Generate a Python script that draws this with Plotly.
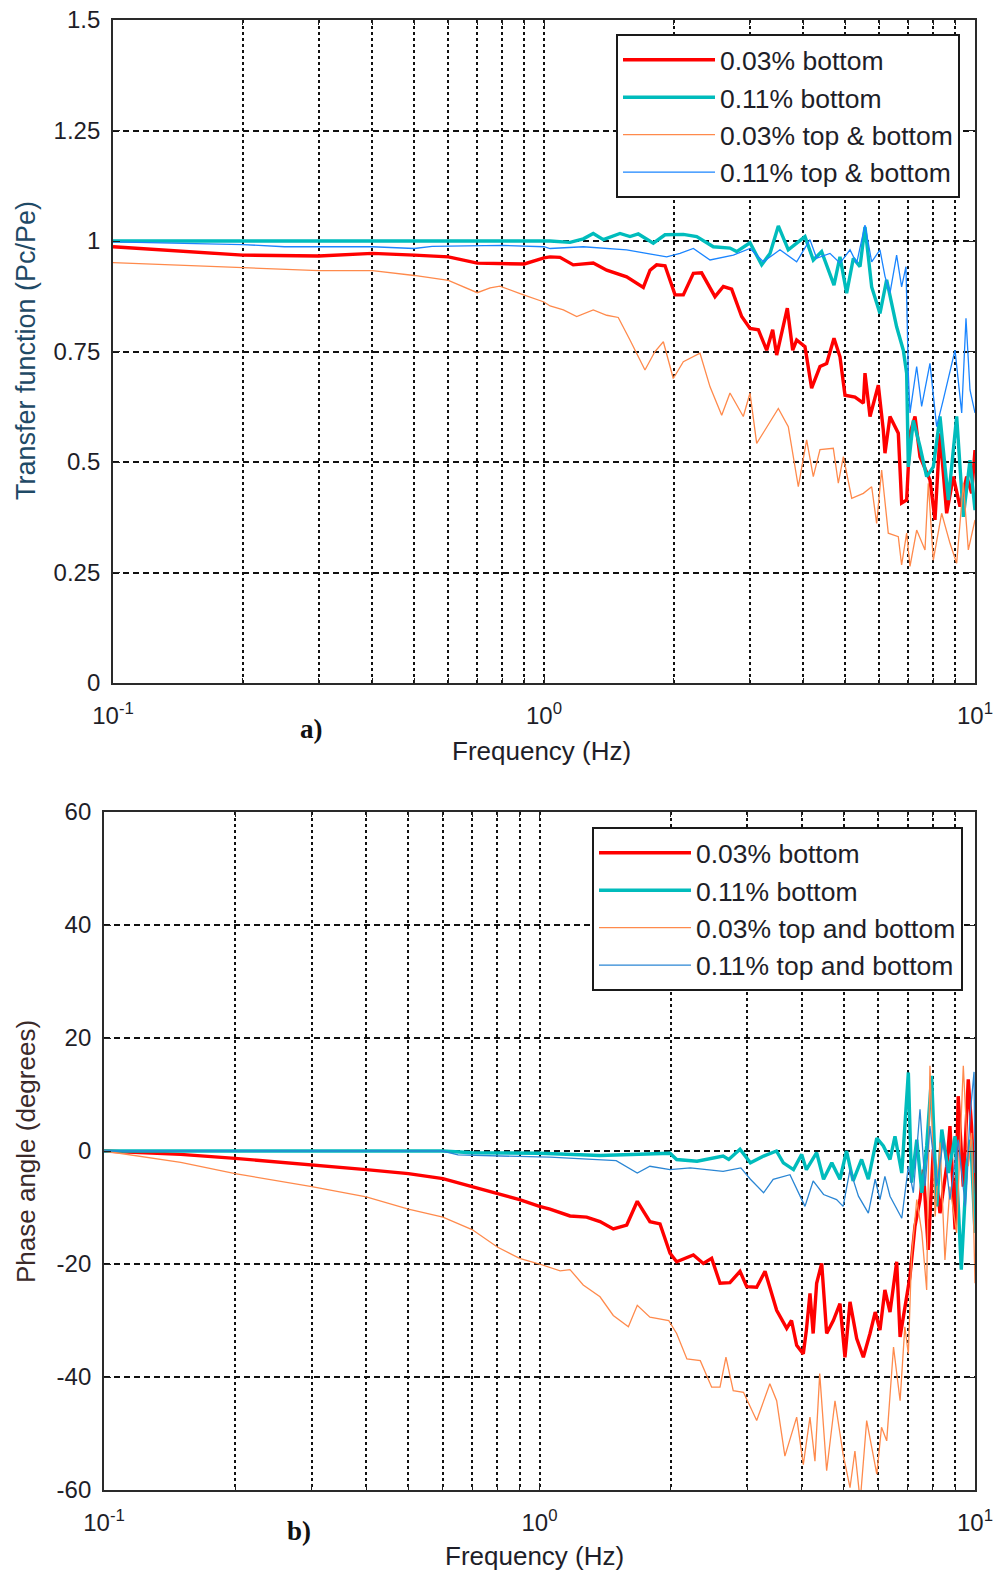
import plotly.graph_objects as go

# ---------------- data: a) transfer function ----------------
tf_red_f = [0.1, 0.12, 0.15, 0.2, 0.3, 0.4, 0.5, 0.6, 0.7, 0.8, 0.9, 1.0, 1.033, 1.089, 1.169, 1.301, 1.398,
            1.555, 1.700, 1.762, 1.825, 1.909, 2.014, 2.105, 2.221, 2.321, 2.493, 2.607, 2.725, 2.875, 3.006,
            3.143, 3.286, 3.393, 3.466, 3.669, 3.776, 3.857, 4.032, 4.178, 4.369, 4.527, 4.708, 4.861, 4.993,
            5.267, 5.508, 5.556, 5.707, 5.966, 6.127, 6.182, 6.349, 6.638, 6.757, 6.941, 7.066, 7.258, 7.454,
            7.862, 8.075, 8.294, 8.595, 8.907, 9.23, 9.565, 9.824, 10.0]
tf_red_v = [0.987, 0.982, 0.975, 0.968, 0.966, 0.972, 0.968, 0.964, 0.950, 0.948, 0.948, 0.962, 0.964, 0.963,
            0.946, 0.950, 0.934, 0.919, 0.895, 0.934, 0.946, 0.944, 0.878, 0.878, 0.927, 0.928, 0.874, 0.897,
            0.891, 0.829, 0.802, 0.799, 0.753, 0.799, 0.742, 0.848, 0.753, 0.776, 0.761, 0.667, 0.716, 0.723,
            0.780, 0.738, 0.651, 0.647, 0.633, 0.701, 0.603, 0.674, 0.572, 0.520, 0.603, 0.565, 0.407, 0.414,
            0.565, 0.603, 0.512, 0.459, 0.369, 0.565, 0.384, 0.467, 0.399, 0.467, 0.429, 0.527]

tf_teal_f = [0.1, 0.3, 0.6, 1.0, 1.033, 1.149, 1.234, 1.301, 1.373, 1.501, 1.583, 1.655, 1.793, 1.909, 2.105,
             2.261, 2.471, 2.701, 2.799, 3.006, 3.199, 3.345, 3.497, 3.688, 4.032, 4.215, 4.407, 4.708, 4.861,
             5.037, 5.221, 5.410, 5.556, 5.758, 6.019, 6.237, 6.579, 6.818, 6.941, 7.003, 7.193, 7.454, 7.724,
             8.003, 8.294, 8.672, 9.067, 9.396, 9.736, 10.0]
tf_teal_v = [1.0, 1.0, 1.0, 1.0, 1.0, 0.997, 1.005, 1.017, 1.003, 1.017, 1.010, 1.016, 0.995, 1.014, 1.015,
             1.010, 0.987, 0.984, 0.976, 0.996, 0.946, 0.972, 1.034, 0.980, 1.010, 0.957, 0.976, 0.900, 0.964,
             0.882, 0.961, 0.942, 1.032, 0.896, 0.836, 0.912, 0.806, 0.753, 0.701, 0.489, 0.594, 0.535, 0.467,
             0.489, 0.603, 0.414, 0.603, 0.376, 0.504, 0.391]

tf_orange_f = [0.1, 0.2, 0.3, 0.4, 0.5, 0.6, 0.7, 0.75, 0.79, 0.88, 1.0, 1.033, 1.109, 1.191, 1.301, 1.398,
               1.487, 1.583, 1.715, 1.809, 1.892, 1.995, 2.105, 2.301, 2.428, 2.584, 2.701, 2.900, 3.006, 3.115,
               3.286, 3.497, 3.688, 3.891, 4.068, 4.215, 4.369, 4.691, 4.818, 4.949, 5.175, 5.508, 5.758, 5.913,
               6.073, 6.292, 6.638, 6.757, 6.941, 7.066, 7.323, 7.656, 7.793, 8.003, 8.368, 8.75, 9.067, 9.396,
               9.65, 10.0]
tf_orange_v = [0.951, 0.940, 0.933, 0.933, 0.922, 0.911, 0.883, 0.894, 0.898, 0.881, 0.862, 0.853, 0.844,
               0.829, 0.844, 0.832, 0.827, 0.776, 0.708, 0.750, 0.772, 0.689, 0.727, 0.746, 0.670, 0.606, 0.656,
               0.603, 0.656, 0.542, 0.580, 0.621, 0.580, 0.444, 0.550, 0.467, 0.528, 0.531, 0.452, 0.512, 0.418,
               0.429, 0.444, 0.361, 0.482, 0.339, 0.331, 0.267, 0.339, 0.264, 0.346, 0.301, 0.452, 0.278, 0.384,
               0.316, 0.271, 0.452, 0.301, 0.369]

tf_blue_f = [0.1, 0.15, 0.2, 0.25, 0.4, 0.5, 0.55, 0.8, 1.0, 1.033, 1.234, 1.555, 1.926, 2.068, 2.221, 2.428,
             2.750, 3.006, 3.228, 3.528, 3.857, 4.141, 4.291, 4.608, 4.861, 5.129, 5.314, 5.556, 5.758, 6.019,
             6.182, 6.349, 6.579, 6.757, 6.916, 7.003, 7.066, 7.323, 7.520, 7.862, 8.147, 8.443, 8.987, 9.314,
             9.53, 9.736, 10.0]
tf_blue_v = [0.998, 0.994, 0.992, 0.987, 0.987, 0.983, 0.988, 0.990, 0.987, 0.983, 0.987, 0.980, 0.964, 0.972,
             0.983, 0.957, 0.968, 0.983, 0.953, 0.980, 0.953, 1.003, 0.961, 0.972, 0.950, 0.980, 0.950, 1.036,
             0.953, 0.980, 0.920, 0.882, 0.968, 0.896, 0.942, 0.701, 0.611, 0.716, 0.626, 0.723, 0.580, 0.641,
             0.753, 0.611, 0.825, 0.663, 0.611]

# ---------------- data: b) phase angle ----------------
ph_red_f = [0.1, 0.15, 0.2, 0.3, 0.4, 0.5, 0.6, 0.7, 0.8, 0.9, 1.0, 1.057, 1.175, 1.283, 1.377, 1.477, 1.586,
            1.677, 1.793, 1.891, 1.994, 2.065, 2.256, 2.378, 2.485, 2.597, 2.737, 2.887, 2.991, 3.153, 3.295,
            3.504, 3.695, 3.79, 3.895, 4.034, 4.1, 4.179, 4.25, 4.329, 4.446, 4.564, 4.728, 4.897, 5.028, 5.164,
            5.35, 5.541, 5.74, 5.9, 6.05, 6.21, 6.381, 6.61, 6.73, 6.97, 7.09, 7.28, 7.477, 7.61, 7.81, 8.023,
            8.31, 8.61, 8.76, 9.0, 9.15, 9.4, 9.65, 9.82, 10.0]
ph_red_v = [0, -0.6, -1.3, -2.4, -3.3, -4.0, -4.9, -6.3, -7.6, -8.6, -9.8, -10.3, -11.5, -11.7, -12.5, -13.8,
            -13.1, -8.9, -12.5, -12.9, -18.1, -19.6, -18.4, -19.9, -19.0, -23.4, -23.3, -21.3, -24.0, -24.1,
            -21.3, -28.2, -31.4, -30.0, -34.4, -35.9, -31.7, -25.2, -32.3, -23.4, -19.9, -32.3, -30.0, -27.0,
            -36.5, -26.7, -33.2, -36.5, -32.3, -28.5, -31.7, -24.6, -28.5, -19.6, -32.9, -25.8, -22.2, -13.3,
            -8.6, -3.3, -17.5, 0.3, -11.0, -2.7, 4.4, -13.9, 9.7, -6.3, 12.7, 4.4, -9.8]

ph_teal_f = [0.1, 0.6, 0.7, 1.0, 1.377, 1.994, 2.065, 2.3, 2.64, 2.72, 2.887, 3.05, 3.27, 3.50, 3.63, 3.83, 4.0,
             4.1, 4.329, 4.49, 4.69, 4.897, 5.07, 5.25, 5.49, 5.69, 5.95, 6.159, 6.381, 6.55, 6.79, 7.03, 7.15,
             7.35, 7.55, 7.745, 7.95, 8.17, 8.39, 8.69, 9.0, 9.3, 9.57, 9.78, 10.0]
ph_teal_v = [0, 0, -0.3, -0.4, -0.8, -0.4, -1.5, -1.8, -0.9, -1.5, 0.3, -2.1, -0.9, 0.0, -2.1, -3.3, -0.6,
             -3.3, -0.3, -5.0, -2.1, -5.0, 0.0, -5.3, -1.5, -5.0, 2.3, 0.9, -1.5, 2.6, -3.9, 13.9, -5.6, 2.0,
             -7.4, 0.9, 13.3, -9.8, 3.8, -3.9, 2.6, -21.0, -2.7, 2.0, -14.5]

ph_orange_f = [0.1, 0.15, 0.2, 0.3, 0.4, 0.5, 0.6, 0.7, 0.8, 0.9, 1.0, 1.115, 1.175, 1.26, 1.377, 1.477, 1.6,
               1.677, 1.793, 1.98, 2.065, 2.18, 2.34, 2.485, 2.597, 2.68, 2.785, 2.94, 3.153, 3.38, 3.504, 3.66,
               3.895, 4.034, 4.179, 4.29, 4.4, 4.564, 4.77, 4.98, 5.164, 5.3, 5.45, 5.64, 5.95, 6.1, 6.27, 6.5,
               6.73, 6.9, 7.03, 7.15, 7.35, 7.55, 7.745, 7.88, 8.1, 8.31, 8.53, 8.76, 9.07, 9.4, 9.65, 9.82, 10.0]
ph_orange_v = [0, -2.0, -4.0, -6.3, -8.1, -10.3, -11.7, -13.9, -17.0, -19.0, -20.0, -21.2, -21.0, -23.7, -25.8,
               -29.1, -31.1, -27.3, -29.4, -30.0, -32.3, -36.8, -37.1, -41.8, -41.8, -36.5, -42.4, -42.7, -47.7,
               -41.2, -44.2, -54.0, -47.1, -55.5, -47.1, -54.9, -39.4, -56.6, -44.2, -53.7, -59.6, -53.1, -62.0,
               -47.7, -57.2, -48.9, -51.3, -34.7, -44.2, -31.1, -35.9, -18.7, -8.6, -14.5, -24.6, 15.1, -11.6,
               1.5, -19.3, -6.3, -14.5, 15.1, -2.7, 3.2, -23.4]

ph_blue_f = [0.1, 0.6, 0.65, 1.0, 1.057, 1.5, 1.677, 1.793, 1.994, 2.22, 2.64, 2.9, 3.05, 3.27, 3.44, 3.76, 4.07,
             4.25, 4.49, 4.81, 4.98, 5.164, 5.4, 5.69, 5.9, 6.05, 6.21, 6.381, 6.79, 7.03, 7.218, 7.477, 7.68,
             7.88, 8.17, 8.46, 8.76, 9.15, 9.5, 9.74, 9.95, 10.0]
ph_blue_v = [0, 0, -0.7, -1.0, -1.1, -1.7, -3.9, -2.7, -3.3, -3.0, -3.6, -3.0, -5.0, -7.4, -5.0, -4.2, -9.8,
             -5.3, -7.7, -8.6, -9.8, -3.3, -8.0, -11.0, -5.0, -8.6, -4.5, -8.0, -11.9, -2.7, -7.4, 7.4, -6.2,
             4.4, -6.2, 2.0, -8.6, 2.0, -9.8, 6.2, 14.0, -3.9]

names_a = ["0.03% bottom", "0.11% bottom", "0.03% top & bottom", "0.11% top & bottom"]
names_b = ["0.03% bottom", "0.11% bottom", "0.03% top and bottom", "0.11% top and bottom"]

x_major_vals = [0.1, 1, 10]
x_major_text = ["10<sup>-1</sup>", "10<sup>0</sup>", "10<sup>1</sup>"]
x_minor_vals = [0.2, 0.3, 0.4, 0.5, 0.6, 0.7, 0.8, 0.9, 2, 3, 4, 5, 6, 7, 8, 9]
ya_tickvals = [0, 0.25, 0.5, 0.75, 1, 1.25, 1.5]
ya_ticktext = ["0", "0.25", "0.5", "0.75", "1", "1.25", "1.5"]
yb_tickvals = [-60, -40, -20, 0, 20, 40, 60]
yb_ticktext = ["-60", "-40", "-20", "0", "20", "40", "60"]

# ---------------- figure ----------------
W, H = 995, 1572
RED, TEAL, ORANGE, BLUE_A, BLUE_B = "#ff0000", "#00bcbc", "#ff8a4c", "#1a85ff", "#2a86d4"
FONT = "Liberation Sans, Arial, sans-serif"
TXT = "#1e1e28"
GRID = "#111111"

fig = go.Figure()
series_a = [(tf_red_f, tf_red_v, RED, 3.4), (tf_teal_f, tf_teal_v, TEAL, 3.4),
            (tf_orange_f, tf_orange_v, ORANGE, 1.3), (tf_blue_f, tf_blue_v, BLUE_A, 1.3)]
for (fx, fy, col, lw), nm in zip(series_a, names_a):
    fig.add_trace(go.Scatter(x=fx, y=fy, mode="lines", name=nm, line=dict(color=col, width=lw),
                             xaxis="x", yaxis="y", legend="legend", legendgroup="a" + nm))
series_b = [(ph_red_f, ph_red_v, RED, 3.4), (ph_teal_f, ph_teal_v, TEAL, 3.4),
            (ph_orange_f, ph_orange_v, ORANGE, 1.3), (ph_blue_f, ph_blue_v, BLUE_B, 1.3)]
for (fx, fy, col, lw), nm in zip(series_b, names_b):
    fig.add_trace(go.Scatter(x=fx, y=fy, mode="lines", name=nm, line=dict(color=col, width=lw),
                             xaxis="x2", yaxis="y2", legend="legend2", legendgroup="b" + nm))

def px_x(p):
    return p / W

def px_y(p):
    return 1 - p / H

common_x = dict(type="log", range=[-1, 1], tickmode="array", tickvals=x_major_vals, ticktext=x_major_text,
                showgrid=True, gridcolor=GRID, gridwidth=1.7, griddash="3px,3px",
                minor=dict(tickmode="array", tickvals=x_minor_vals, showgrid=True, gridcolor=GRID,
                           gridwidth=1.7, griddash="3px,3px", ticks="inside", ticklen=5, tickcolor="#222"),
                ticks="inside", ticklen=7, tickcolor="#222", showline=True, linecolor="#2a2a2a",
                linewidth=1.8, mirror="ticks", zeroline=False, ticklabelstandoff=10, automargin=False,
                tickfont=dict(family=FONT, size=24, color=TXT))
common_y = dict(tickmode="array", showgrid=True, gridcolor=GRID, gridwidth=1.7, griddash="6px,4px",
                ticks="inside", ticklen=7, tickcolor="#222", showline=True, linecolor="#2a2a2a",
                linewidth=1.8, mirror="ticks", zeroline=False, ticklabelstandoff=6, automargin=False,
                tickfont=dict(family=FONT, size=24, color=TXT))

fig.update_layout(
    width=W, height=H, margin=dict(l=0, r=0, t=0, b=0, pad=0, autoexpand=False),
    paper_bgcolor="white", plot_bgcolor="white",
    xaxis=dict(domain=[px_x(113), px_x(975)], anchor="y", **common_x),
    yaxis=dict(domain=[px_y(683), px_y(20)], anchor="x", range=[0, 1.5],
               tickvals=ya_tickvals, ticktext=ya_ticktext, **common_y),
    xaxis2=dict(domain=[px_x(104), px_x(975)], anchor="y2", **common_x),
    yaxis2=dict(domain=[px_y(1490), px_y(812)], anchor="x2", range=[-60, 60],
                tickvals=yb_tickvals, ticktext=yb_ticktext, **common_y),
    legend=dict(x=px_x(616), y=px_y(34), xanchor="left", yanchor="top", bgcolor="white",
                bordercolor="#1a1a1a", borderwidth=2, itemwidth=92, tracegroupgap=0,
                font=dict(family=FONT, size=26.5, color=TXT)),
    legend2=dict(x=px_x(592), y=px_y(827), xanchor="left", yanchor="top", bgcolor="white",
                 bordercolor="#1a1a1a", borderwidth=2, itemwidth=92, tracegroupgap=0,
                 font=dict(family=FONT, size=26.5, color=TXT)),
    showlegend=True,
)

annots = [
    dict(text="Frequency (Hz)", x=px_x(541), y=px_y(751), font=dict(family=FONT, size=26, color=TXT)),
    dict(text="Frequency (Hz)", x=px_x(534), y=px_y(1556), font=dict(family=FONT, size=26, color=TXT)),
    dict(text="Transfer function (Pc/Pe)", x=px_x(26), y=px_y(351), textangle=-90,
         font=dict(family=FONT, size=27, color="#1f4a66")),
    dict(text="Phase angle (degrees)", x=px_x(26), y=px_y(1152), textangle=-90,
         font=dict(family=FONT, size=26, color="#3a2a2a")),
    dict(text="<b>a)</b>", x=px_x(311), y=px_y(729),
         font=dict(family="Liberation Serif, Times New Roman, serif", size=27, color="#111")),
    dict(text="<b>b)</b>", x=px_x(299), y=px_y(1531),
         font=dict(family="Liberation Serif, Times New Roman, serif", size=27, color="#111")),
]
for a in annots:
    fig.add_annotation(xref="paper", yref="paper", showarrow=False, xanchor="center", yanchor="middle", **a)

fig.write_html("out.html")
